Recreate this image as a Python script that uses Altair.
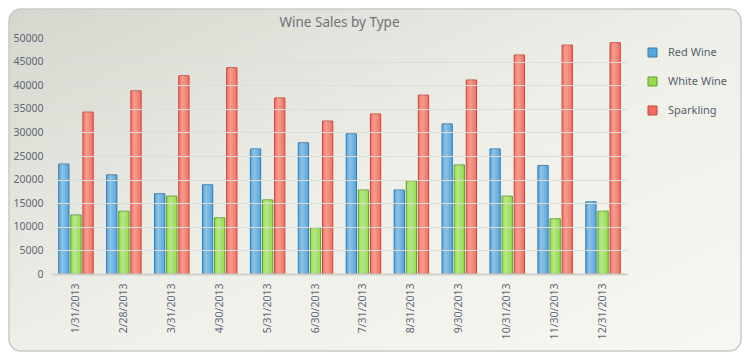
import altair as alt
import pandas as pd

months = ["1/31/2013", "2/28/2013", "3/31/2013", "4/30/2013", "5/31/2013", "6/30/2013",
          "7/31/2013", "8/31/2013", "9/30/2013", "10/31/2013", "11/30/2013", "12/31/2013"]
series = ["Red Wine", "White Wine", "Sparkling"]
red_wine = [23300, 21000, 17000, 18900, 26500, 27800, 29700, 17800, 31800, 26500, 23000, 15300]
white_wine = [12500, 13300, 16500, 11900, 15700, 9800, 17800, 19700, 23100, 16500, 11700, 13300]
sparkling = [34300, 38800, 42000, 43700, 37300, 32400, 33900, 37900, 41100, 46400, 48500, 49000]
y_ticks = [0, 5000, 10000, 15000, 20000, 25000, 30000, 35000, 40000, 45000, 50000]

fills = ["#55a6db", "#94dc4e", "#f26f5f"]
strokes = ["#3579ad", "#5c9e2c", "#c2463a"]

rows = []
for i, m in enumerate(months):
    for s, vals in zip(series, [red_wine, white_wine, sparkling]):
        rows.append({"month": m, "type": s, "sales": vals[i]})
df = pd.DataFrame(rows)

W, H = 575, 236
PL, PT, PR, PB = 44, 30, 115, 78

font = "Noto Sans"

# decorative frame behind the chart
frame = alt.Chart(alt.Data(values=[{}])).mark_rect(
    cornerRadius=12,
    stroke="#c9c9c6",
    strokeWidth=1.5,
    fill=alt.Gradient(
        gradient="linear", x1=0, y1=0, x2=1, y2=1,
        stops=[alt.GradientStop(offset=0, color="#d6d6cf"),
               alt.GradientStop(offset=0.5, color="#efefe9"),
               alt.GradientStop(offset=1, color="#f7f7f3")],
    ),
).encode(
    x=alt.value(-PL + 1), x2=alt.value(W + PR - 1),
    y=alt.value(-PT + 1), y2=alt.value(H + PB - 1),
)

x_enc = alt.X("month:N", sort=months, title=None,
              scale=alt.Scale(paddingInner=0.28, paddingOuter=0.14),
              axis=alt.Axis(labelAngle=-90, labelPadding=9, ticks=False, zindex=1,
                            domainColor="#d0d0cc", domainWidth=2,
                            labelColor="#5f6873", labelFontSize=10.5, labelFont=font))
y_enc = alt.Y("sales:Q", title=None,
              scale=alt.Scale(domain=[0, 50000], nice=False),
              axis=alt.Axis(values=y_ticks, format="d", ticks=False, domain=False, labelPadding=9, zindex=1,
                            labelColor="#5f6873", labelFontSize=10.5, labelFont=font,
                            gridColor="#dcdcd8",
                            gridOpacity={"condition": {"test": "datum.value >= 50000", "value": 0}, "value": 1}))
xo = alt.XOffset("type:N", sort=series, scale=alt.Scale(paddingInner=0.15))

legend = alt.Legend(title=None, orient="none", legendX=595, legendY=9,
                    symbolType="square", symbolSize=81, symbolStrokeWidth=1,
                    rowPadding=16, labelOffset=10, padding=0,
                    labelFont=font, labelFontSize=11, labelColor="#55606b")

bars = alt.Chart(df).mark_bar(strokeWidth=1).encode(
    x=x_enc, y=y_enc, xOffset=xo,
    fill=alt.Fill("type:N", sort=series, scale=alt.Scale(domain=series, range=fills), legend=legend),
    stroke=alt.Stroke("type:N", sort=series, scale=alt.Scale(domain=series, range=strokes), legend=legend),
)

shine = alt.Chart(df).mark_bar(
    fill=alt.Gradient(
        gradient="linear", x1=0, y1=0, x2=1, y2=0,
        stops=[alt.GradientStop(offset=0, color="rgba(255,255,255,0)"),
               alt.GradientStop(offset=0.35, color="rgba(255,255,255,0.32)"),
               alt.GradientStop(offset=1, color="rgba(255,255,255,0)")],
    ),
).encode(x=x_enc, y=y_enc, xOffset=xo)

chart = alt.layer(frame, bars, shine).properties(
    width=W, height=H,
    autosize=alt.AutoSizeParams(type="none"),
    padding={"left": PL, "top": PT, "right": PR, "bottom": PB},
    title=alt.TitleParams("Wine Sales by Type", fontSize=13.5, font=font, fontWeight="normal",
                          color="#6f7275", anchor="middle", offset=8, zindex=1, frame="group", dy=29),
).configure_view(stroke=None).configure(background="#ffffff")

chart.save("out.html", embed_options={"renderer": "svg", "actions": False})
